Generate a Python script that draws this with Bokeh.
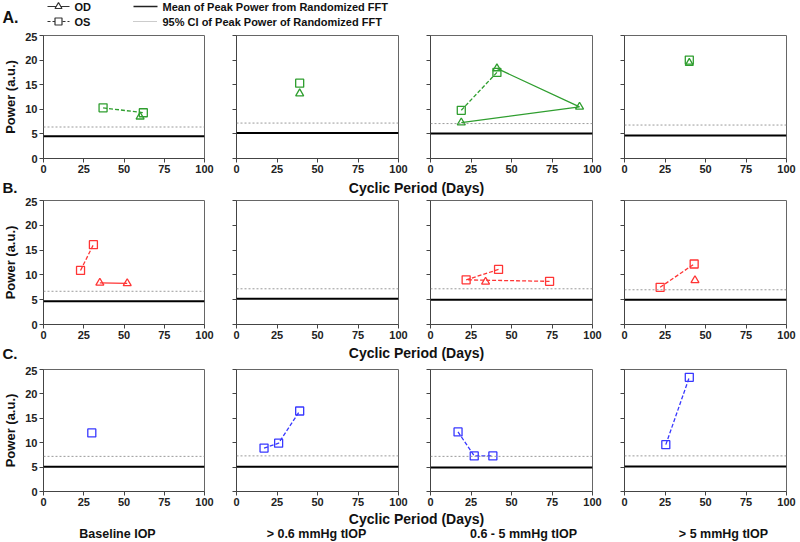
from bokeh.plotting import figure
from bokeh.models import Range1d, FixedTicker, Span
from bokeh.layouts import column, row
from bokeh.embed import file_html
from bokeh.resources import INLINE
from bokeh.core.properties import value

FONT = "Liberation Sans"

# ---------------- data ----------------
x_ticks = [0, 25, 50, 75, 100]
y_ticks = [0, 5, 10, 15, 20, 25]
conditions = ["Baseline IOP", "> 0.6 mmHg tIOP", "0.6 - 5 mmHg tIOP", "> 5 mmHg tIOP"]
row_letters = ["A.", "B.", "C."]
x_title = "Cyclic Period (Days)"
y_title = "Power (a.u.)"
legend_eyes = ["OD", "OS"]
legend_refs = ["Mean of Peak Power from Randomized FFT", "95% CI of Peak Power of Randomized FFT"]

# Row A
od_x_A = [[60], [39], [19, 92, 41], [40]]
od_y_A = [[8.5], [13.2], [7.3, 10.5, 18.3], [19.4]]
os_x_A = [[37, 62], [39], [19, 41], [40]]
os_y_A = [[10.3, 9.3], [15.3], [9.8, 17.5], [20.0]]
mean_A = [4.5, 5.2, 5.1, 4.7]
ci_A = [6.4, 7.2, 7.1, 6.8]

# Row B
od_x_B = [[35, 52], [], [34], [43.5]]
od_y_B = [[8.4, 8.3], [], [8.6], [8.9]]
os_x_B = [[23, 31], [], [42, 22, 73.5], [22, 43]]
os_y_B = [[10.9, 16.1], [], [11.1, 9.0, 8.7], [7.5, 12.2]]
mean_B = [4.7, 5.2, 5.0, 5.0]
ci_B = [6.7, 7.2, 7.2, 7.0]

# Row C
od_x_C = [[], [], [], []]
od_y_C = [[], [], [], []]
os_x_C = [[30], [17, 26, 39], [17, 27, 38.5], [25.5, 40]]
os_y_C = [[12.0], [8.9, 9.9, 16.5], [12.2, 7.3, 7.3], [9.6, 23.4]]
mean_C = [5.05, 5.05, 4.9, 5.1]
ci_C = [7.2, 7.3, 7.2, 7.3]

row_colors = ["#2f9e2f", "#ff3535", "#3838ff"]

# ---------------- layout constants ----------------
FIG_W = [220, 194, 194, 192]
BORDER_L = [42, 16, 16, 16]
BORDER_R = [16, 16, 16, 14]
ROW_H = [145, 146, 144]
ROW_BB = [19, 19, 19]
AXIS_C = "#444444"


def panel(r, col, odx, ody, osx, osy, mean, ci, color):
    p = figure(width=FIG_W[col], height=ROW_H[r],
               x_range=Range1d(0, 100), y_range=Range1d(0, 25),
               output_backend="svg", toolbar_location=None,
               min_border_left=BORDER_L[col], min_border_right=BORDER_R[col],
               min_border_top=3, min_border_bottom=ROW_BB[r])
    p.grid.visible = False
    p.outline_line_color = "#666666"
    p.outline_line_width = 1
    p.xaxis.ticker = FixedTicker(ticks=x_ticks)
    p.yaxis.ticker = FixedTicker(ticks=y_ticks)
    for ax in (p.xaxis, p.yaxis):
        ax.axis_line_color = AXIS_C
        ax.major_tick_line_color = AXIS_C
        ax.minor_tick_line_color = None
        ax.major_tick_in = 0
        ax.major_tick_out = 4
        ax.major_label_standoff = 2
        ax.major_label_text_font = FONT
        ax.major_label_text_font_style = "bold"
        ax.major_label_text_font_size = "11px"
        ax.major_label_text_color = "#222222"
    if col == 0:
        p.yaxis.axis_label = y_title
        p.yaxis.axis_label_text_font = FONT
        p.yaxis.axis_label_text_font_style = "bold"
        p.yaxis.axis_label_text_font_size = "13px"
        p.yaxis.axis_label_text_color = "#111111"
        p.yaxis.axis_label_standoff = 4
    else:
        p.yaxis.major_label_overrides = {t: "" for t in y_ticks}

    p.add_layout(Span(location=ci, dimension="width", line_color="#9a9a9a",
                      line_width=1, line_dash="2 2"))
    p.add_layout(Span(location=mean, dimension="width", line_color="black",
                      line_width=2))
    if len(odx) > 1:
        p.line(odx, ody, line_color=color, line_width=1.3)
    if len(osx) > 1:
        p.line(osx, osy, line_color=color, line_width=1.3, line_dash="4 2")
    if odx:
        p.scatter(odx, ody, marker="triangle", size=8, fill_color=None,
                  line_color=color, line_width=1.3)
    if osx:
        p.scatter(osx, osy, marker="square", size=8, fill_color=None,
                  line_color=color, line_width=1.3)
    return p


def blank(h, y0):
    p = figure(width=800, height=h, x_range=Range1d(0, 800),
               y_range=Range1d(y0 + h, y0), output_backend="svg",
               toolbar_location=None, min_border=0,
               x_axis_type=None, y_axis_type=None)
    p.grid.visible = False
    p.outline_line_color = None
    return p


def label(p, x, y, txt, size, align="center"):
    p.text(x=[x], y=[y], text=[txt], text_font=value(FONT),
           text_font_style="bold", text_font_size=size, text_align=align,
           text_baseline="middle", text_color="#111111")


# ---------------- header (legend) ----------------
header = blank(32, 0)
label(header, 2, 17, row_letters[0], "16px", "left")
header.line([47, 69], [6, 6], line_color="#333333", line_width=1.2)
header.scatter([58], [6], marker="triangle", size=7, fill_color="white",
               line_color="#333333", line_width=1.2)
header.line([47, 69], [21, 21], line_color="#333333", line_width=1.2, line_dash="3 2")
header.scatter([58], [21], marker="square", size=7, fill_color="white",
               line_color="#333333", line_width=1.2)
label(header, 74, 6, legend_eyes[0], "11px", "left")
label(header, 74, 21, legend_eyes[1], "11px", "left")
header.line([133, 157], [6, 6], line_color="#222222", line_width=1.5)
header.line([133, 157], [21, 21], line_color="#999999", line_width=1, line_dash="1 1")
label(header, 162, 6, legend_refs[0], "11px", "left")
label(header, 162, 21, legend_refs[1], "11px", "left")

rows_data = [
    (od_x_A, od_y_A, os_x_A, os_y_A, mean_A, ci_A),
    (od_x_B, od_y_B, os_x_B, os_y_B, mean_B, ci_B),
    (od_x_C, od_y_C, os_x_C, os_y_C, mean_C, ci_C),
]

panel_rows = []
for r, (odx, ody, osx, osy, mn, ci) in enumerate(rows_data):
    figs = [panel(r, c, odx[c], ody[c], osx[c], osy[c], mn[c], ci[c], row_colors[r])
            for c in range(4)]
    panel_rows.append(row(*figs, spacing=0))

labA = blank(20, 177)
label(labA, 416, 187, x_title, "14px")
label(labA, 2, 187, row_letters[1], "15px", "left")

labB = blank(23, 343)
label(labB, 416, 352, x_title, "14px")
label(labB, 2, 353, row_letters[2], "15px", "left")

labC = blank(32, 510)
label(labC, 416, 518, x_title, "14px")
cond_x = [117, 316, 523, 723]
for cx, txt in zip(cond_x, conditions):
    label(labC, cx, 533, txt, "12.5px")

layout = column(header, panel_rows[0], labA, panel_rows[1], labB, panel_rows[2], labC,
                spacing=0)

open("out.html", "w").write(file_html(layout, INLINE))
